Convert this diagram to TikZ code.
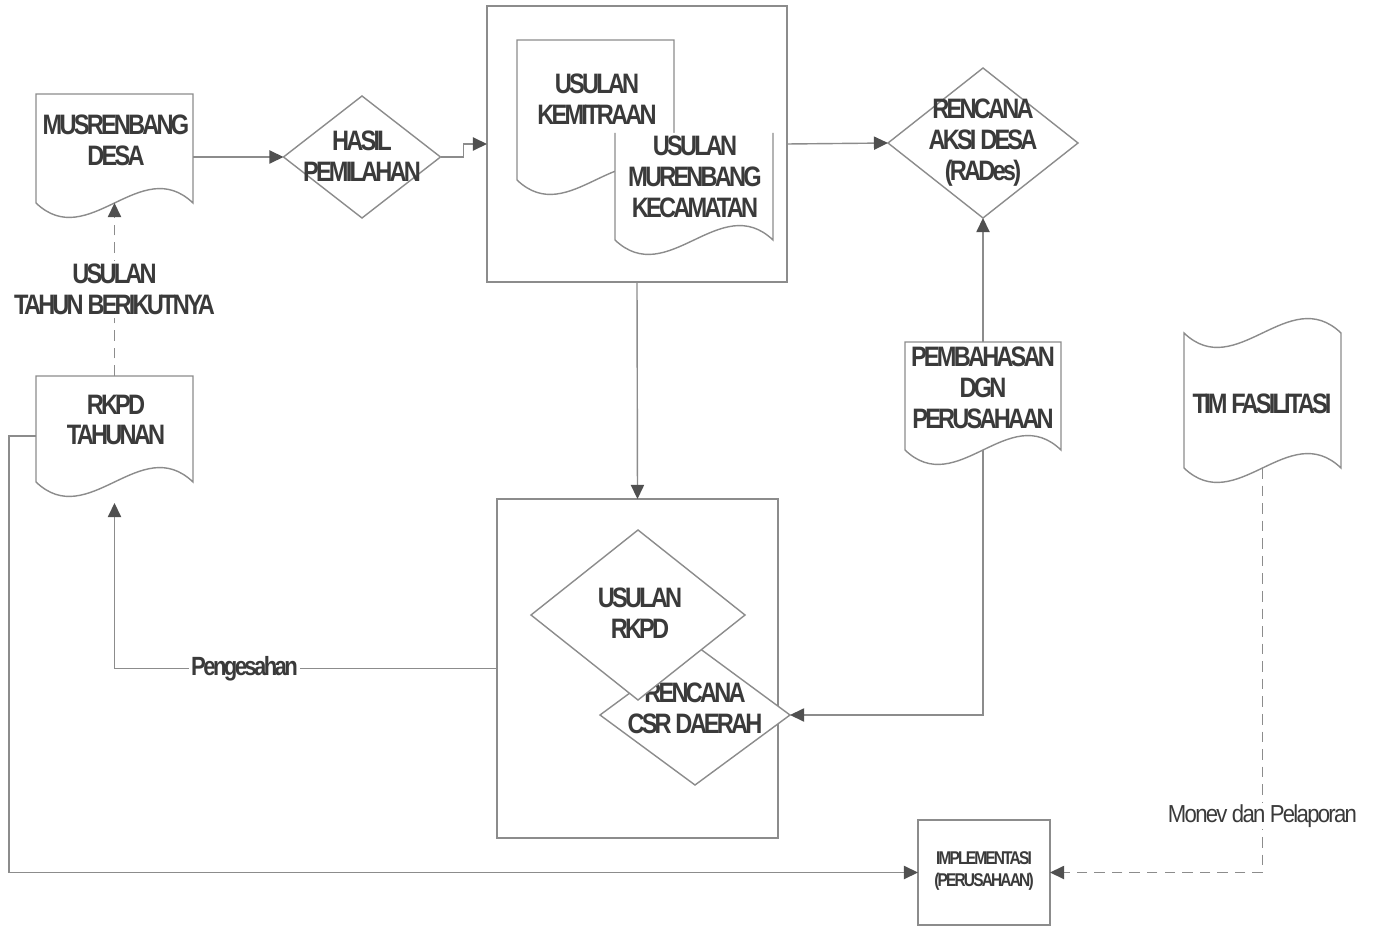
\documentclass[tikz,border=0pt]{standalone}
\usepackage{fontspec}
\setmainfont{Liberation Sans}
\newfontfamily\lab[FakeStretch=0.84,LetterSpace=-10]{Liberation Sans}
\newfontfamily\labthin[FakeStretch=0.9,LetterSpace=-7]{Liberation Sans}
\usetikzlibrary{arrows.meta,calc,fit,shapes.geometric}
\definecolor{ln}{HTML}{8C8C8C}
\definecolor{tx}{HTML}{3A3A3A}
\definecolor{ah}{HTML}{505050}
\newcommand\pxu{0.02cm}
\tikzset{
  shp/.style={draw=ln, line width=0.8pt, fill=white},
  conn/.style={draw=ln, line width=0.8pt},
  arr/.style={-{Triangle[length=8pt,width=7.5pt,fill=ah,color=ah]}},
  dsh/.style={dash pattern=on 6pt off 4pt},
  lbl/.style={font=\lab\bfseries\fontsize{16}{17.6}\selectfont, text=tx, align=center, inner sep=0pt},
  lblsm/.style={font=\lab\bfseries\fontsize{10.5}{13}\selectfont, text=tx, align=center, inner sep=0pt},
  lblcon/.style={font=\labthin\fontsize{14}{16}\selectfont, text=tx, fill=white, inner sep=1pt},
  area/.style={inner sep=0pt, outer sep=0pt},
  dia/.style={diamond, shp, inner sep=0pt, outer sep=0pt}
}
% document shape: l, t, r, b (wave base)
\newcommand\docshp[4]{%
  \path[shp] (#1,#2) -- (#3,#2) -- (#3,#4)
    .. controls ({#1+2*(#3-#1)/3},{#4-50}) and ({#1+(#3-#1)/3},{#4+50}) .. (#1,#4) -- cycle;}
\begin{document}
\begin{tikzpicture}[x=0.02cm,y=-0.02cm]
\path[fill=white,use as bounding box] (0,0) rectangle (1377,926);

% ---- MUSRENBANG DESA
\docshp{36}{94}{193}{203}
\node[area, fit={(36,94) (193,203)}] (musren) {};
\node[lbl] (tmusren) at (116,140) {MUSRENBANG\\DESA};

% ---- HASIL PEMILAHAN
\node[dia, minimum width=157*\pxu, minimum height=122*\pxu] (hasil) at (362,157) {};
\node[lbl] (thasil) at (362,156) {HASIL\\PEMILAHAN};

% ---- box 1
\path[shp] (487,6) rectangle (787,282);
\node[area, fit={(487,6) (787,282)}] (box1) {};
\docshp{517}{40}{674}{180}
\node[area, fit={(517,40) (674,180)}] (kemit) {};
\node[lbl] (tkemit) at (597,99) {USULAN\\KEMITRAAN};
\path[fill=white] (615,133) -- (773,133) -- (773,240)
   .. controls ({615+2*158/3},190) and ({615+158/3},290) .. (615,240) -- cycle;
\path[conn] (773,133) -- (773,240)
   .. controls ({615+2*158/3},190) and ({615+158/3},290) .. (615,240) -- (615,133);
\node[area, fit={(615,133) (773,240)}] (murenb) {};
\node[lbl] (tmurenb) at (695,177) {USULAN\\MURENBANG\\KECAMATAN};

% ---- RENCANA AKSI DESA
\node[dia, minimum width=190*\pxu, minimum height=150*\pxu] (rades) at (983,143) {};
\node[lbl] (trades) at (983,143) {RENCANA\\AKSI DESA\\(RADes)};

% ---- PEMBAHASAN
\docshp{905}{342}{1061}{450}
\node[area, fit={(905,342) (1061,450)}] (pemb) {};
\node[lbl] (tpemb) at (983,388) {PEMBAHASAN\\DGN\\PERUSAHAAN};

% ---- TIM FASILITASI (tape)
\path[shp] (1184,333) .. controls ({1184+157/3},383) and ({1184+2*157/3},283) .. (1341,333)
   -- (1341,468) .. controls ({1184+2*157/3},418) and ({1184+157/3},518) .. (1184,468) -- cycle;
\node[area, fit={(1184,333) (1341,468)}] (tim) {};
\node[lbl] (ttim) at (1262,404) {TIM FASILITASI};

% ---- RKPD TAHUNAN
\docshp{36}{376}{193}{482}
\node[area, fit={(36,376) (193,482)}] (rkpd) {};
\node[lbl] (trkpd) at (116,420) {RKPD\\TAHUNAN};

% ---- box 2
\path[shp] (497,499) rectangle (778,838);
\node[area, fit={(497,499) (778,838)}] (box2) {};
\node[dia, minimum width=190*\pxu, minimum height=140*\pxu] (csr) at (695,715) {};
\node[lbl] (tcsr) at (695,708) {RENCANA\\CSR DAERAH};
\node[dia, minimum width=214*\pxu, minimum height=170*\pxu] (urkpd) at (638,615) {};
\node[lbl] (turkpd) at (640,613) {USULAN\\RKPD};

% ---- IMPLEMENTASI
\path[shp] (918,820) rectangle (1050,925);
\node[area, fit={(918,820) (1050,925)}] (impl) {};
\node[lblsm] (timpl) at (984,871) {IMPLEMENTASI\\(PERUSAHAAN)};

% ---- connectors
\draw[conn,arr] (musren.east |- hasil.west) -- (hasil.west);
\draw[conn,arr] (hasil.east) -- ++(23,0) |- (box1.west);
\draw[conn,arr] (box1.east) -- (rades.west);
\draw[conn,arr] (pemb.north) -- (rades.south);
\draw[conn,arr] (pemb.south) |- (csr.east);
\draw[conn,arr] (box1.south) -- (box2.north);
\draw[conn,arr,dsh] (tim.south) |- (impl.east)
   node[lblcon, pos=0.43] (monev) {Monev dan Pelaporan};
\draw[conn,arr] ($(rkpd.west)+(0,7)$) -- ++(-27,0) |- (impl.west);
\draw[conn,arr] (box2.west) -| ($(rkpd.south)+(0,21)$)
   node[fill=white, inner sep=1pt, text=tx, font=\lab\bfseries\fontsize{15}{17}\selectfont, pos=0.33] (peng) {Pengesahan};
\draw[conn,arr,dsh] (rkpd.north) -- (musren.south)
   node[lbl, fill=white, inner sep=2pt, pos=0.5] (tusulan) {USULAN\\TAHUN BERIKUTNYA};
\end{tikzpicture}
\end{document}
